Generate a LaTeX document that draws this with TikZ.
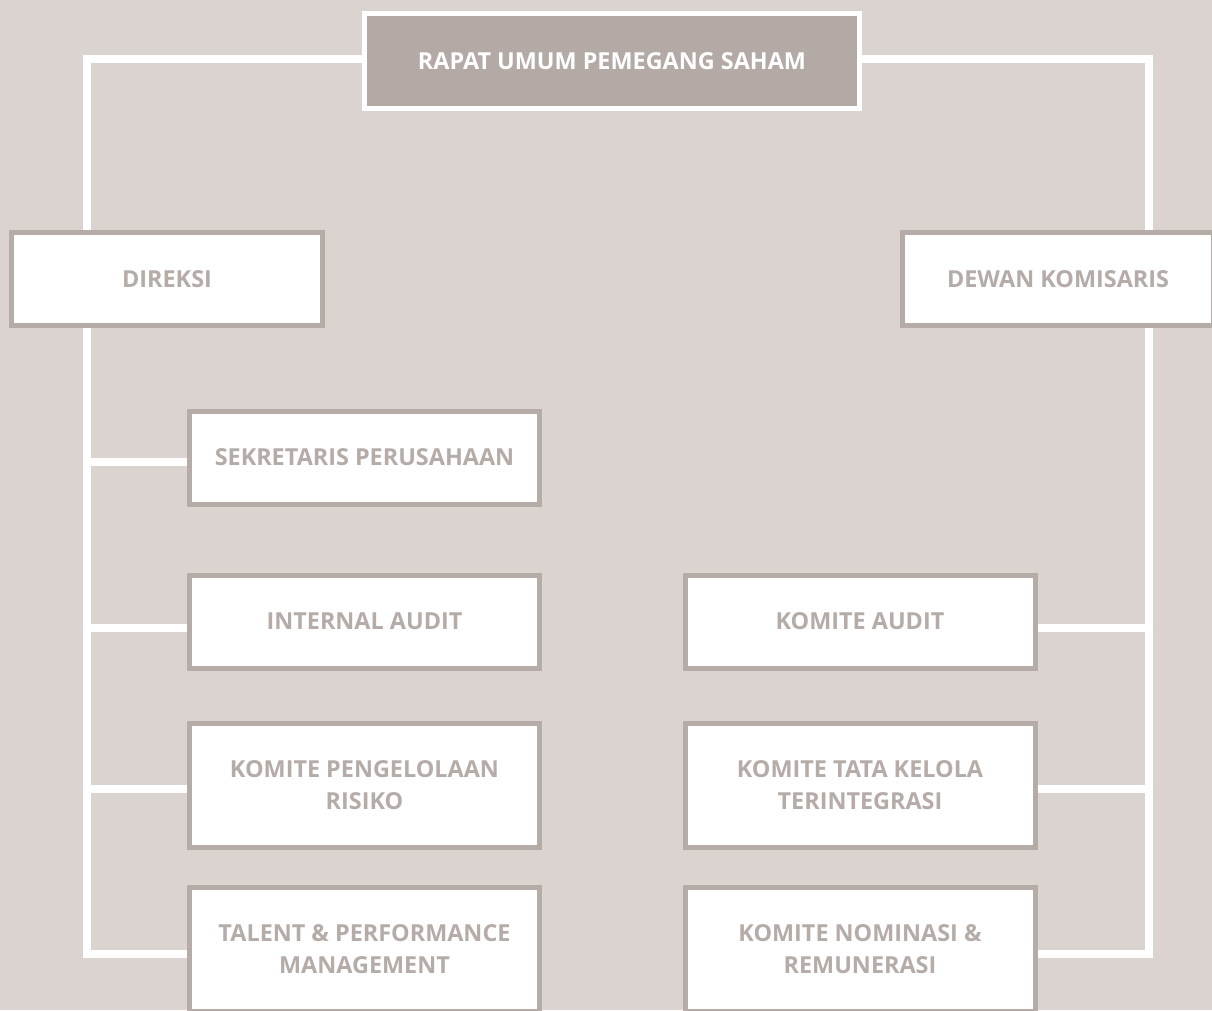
\documentclass[tikz,border=0pt]{standalone}
\usepackage{fontspec}
\setmainfont{Open Sans}
\usetikzlibrary{backgrounds}
\definecolor{bgtaupe}{HTML}{DAD3D0}
\definecolor{boxgray}{HTML}{B5ACA8}
\definecolor{headgray}{HTML}{B3AAA6}
\tikzset{
  unit/.style={draw=boxgray,line width=5pt,fill=white,text=boxgray,
    font=\fontsize{23.4}{32}\selectfont\bfseries,align=center,
    inner sep=0pt,minimum width=350pt,minimum height=93pt},
  tall/.style={minimum height=124pt},
  link/.style={draw=white,line width=8pt}
}
\begin{document}
\begin{tikzpicture}[x=1pt,y=-1pt]
      \useasboundingbox (0,0) rectangle (1212,1010);
      % top
      \node[unit,fill=headgray,draw=white,text=white,minimum width=495pt,minimum height=95pt]
        (rups) at (612,61) {RAPAT UMUM PEMEGANG SAHAM};
      \node[unit,minimum width=311pt] (direksi) at (167,279) {DIREKSI};
      \node[unit,minimum width=311pt] (dewan) at (1058,279) {DEWAN KOMISARIS};
      % left column
      \node[unit] (sekper) at (364.5,457.5) {SEKRETARIS PERUSAHAAN};
      \node[unit] (intaudit) at (364.5,621.5) {INTERNAL AUDIT};
      \node[unit,tall] (risiko) at (364.5,785.5) {KOMITE PENGELOLAAN\\RISIKO};
      \node[unit,tall] (talent) at (364.5,949.5) {TALENT \& PERFORMANCE\\MANAGEMENT};
      % right column
      \node[unit] (kaudit) at (860,621.5) {KOMITE AUDIT};
      \node[unit,tall] (tatakelola) at (860,785.5) {KOMITE TATA KELOLA\\TERINTEGRASI};
      \node[unit,tall] (nominasi) at (860,949.5) {KOMITE NOMINASI \&\\REMUNERASI};
      \coordinate (lb) at (87,954);
      \coordinate (rb) at (1149,954);
      \begin{scope}[on background layer]
        \fill[bgtaupe] (0,0) rectangle (1212,1010);
        \draw[link] ([yshift=2pt]rups.west) -| (lb) -- ([yshift=-4.5pt]talent.west);
        \draw[link] ([yshift=2pt]rups.east) -| (rb) -- ([yshift=-4.5pt]nominasi.east);
        \draw[link] ([yshift=-4.5pt]sekper.west) coordinate (s1) -- (s1 -| lb);
        \draw[link] ([yshift=-6pt]intaudit.west) coordinate (s2) -- (s2 -| lb);
        \draw[link] ([yshift=-3pt]risiko.west) coordinate (s3) -- (s3 -| lb);
        \draw[link] ([yshift=-6pt]kaudit.east) coordinate (s4) -- (s4 -| rb);
        \draw[link] ([yshift=-3pt]tatakelola.east) coordinate (s5) -- (s5 -| rb);
      \end{scope}
\end{tikzpicture}
\end{document}
